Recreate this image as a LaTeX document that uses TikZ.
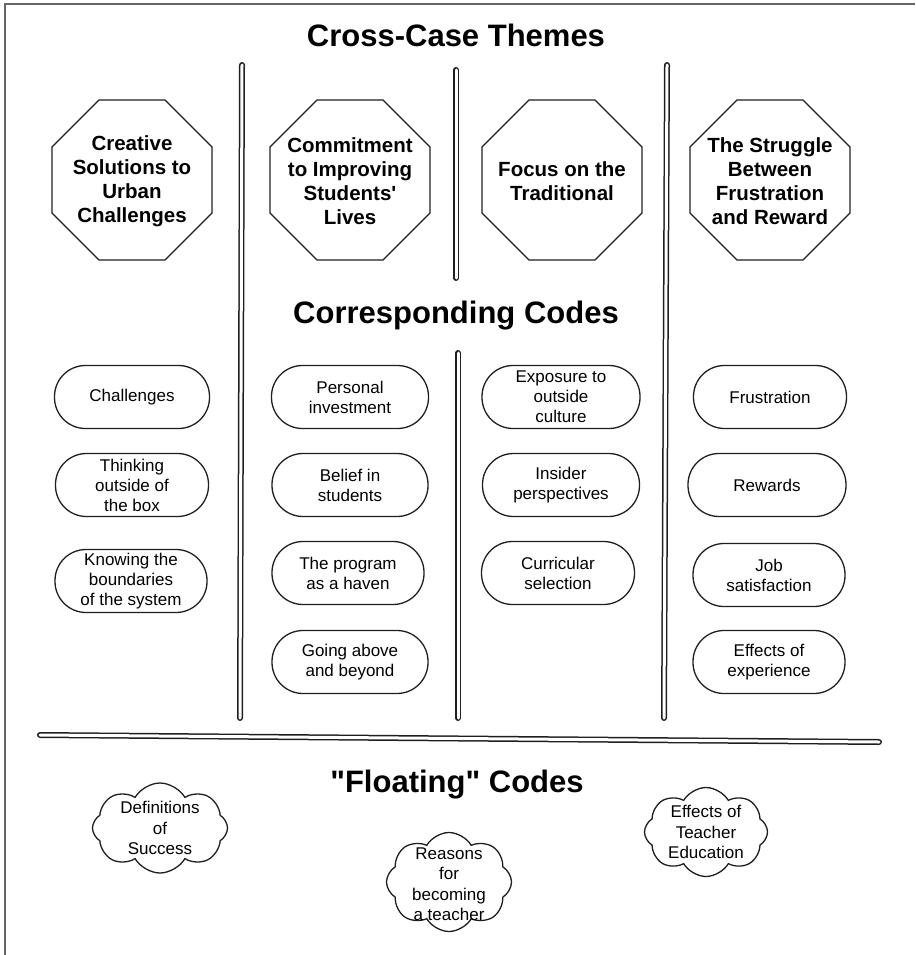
\documentclass[tikz,border=0pt]{standalone}
\usepackage{fontspec}
\setmainfont{Liberation Sans}[Ligatures=TeXOff]
\usetikzlibrary{shapes.geometric,shapes.symbols}
\definecolor{ink}{HTML}{1E1E1E}
\definecolor{frame}{HTML}{666666}
\begin{document}
\begin{tikzpicture}[x=1pt,y=-1pt,
  heading/.style={font=\fontsize{31}{36}\selectfont\bfseries, anchor=base, inner sep=0pt},
  theme/.style={draw=ink, line width=1.3pt, regular polygon, regular polygon sides=8,
    minimum size=173pt, inner sep=0pt},
  themetext/.style={inner sep=0pt, align=center,
    font=\fontsize{20.5}{24}\selectfont\bfseries},
  codebox/.style={draw=ink, line width=1.3pt, rectangle, rounded corners=31pt,
    minimum width=155pt, minimum height=63pt, inner sep=0pt, align=center,
    font=\fontsize{17}{20}\selectfont},
  floatcloud/.style={draw=ink, line width=1.3pt, cloud, cloud puffs=8, cloud puff arc=120,
    cloud ignores aspect, inner sep=0pt},
  cloudtext/.style={align=center, inner sep=0pt, font=\fontsize{17}{20.5}\selectfont},
  divider/.style={draw=ink, double=white, line width=1.5pt, double distance=3pt, line cap=round}
]
\useasboundingbox (0,0) rectangle (915,955);
% frame (top and left edges)
\draw[frame, line width=1.6pt] (5,955) -- (5,4) -- (915,4);

% headings
\node[heading] (h1) at (456,47) {Cross-Case Themes};
\node[heading] (h2) at (456,323) {Corresponding Codes};
\node[heading] (h3) at (457,792) {"Floating" Codes};

% dividers
\coordinate (v1a) at (242,65);  \coordinate (v1b) at (240,718);
\coordinate (v2a) at (456,70);  \coordinate (v2b) at (456,278);
\coordinate (v3a) at (667,65);  \coordinate (v3b) at (664,718);
\coordinate (v4a) at (458,353); \coordinate (v4b) at (458,718);
\coordinate (ha) at (40,735);   \coordinate (hb) at (879,742);
\draw[divider] (v1a) -- (v1b);
\draw[divider] (v2a) -- (v2b);
\draw[divider] (v3a) -- (v3b);
\draw[divider] (v4a) -- (v4b);
\draw[divider] (ha) -- (hb);

% themes
\node[theme] (o1) at (132,180) {};
\node[themetext] (o1t) at (132,181) {Creative\\Solutions to\\Urban\\Challenges};
\node[theme] (o2) at (350,180) {};
\node[themetext] (o2t) at (350,181) {Commitment\\to Improving\\Students'\\Lives};
\node[theme] (o3) at (562,180) {};
\node[themetext] (o3t) at (562,181) {Focus on the\\Traditional};
\node[theme] (o4) at (770,180) {};
\node[themetext] (o4t) at (770,181) {The Struggle\\Between\\Frustration\\and Reward};

% codes column 1
\node[codebox] (c11) at (132,397) {Challenges};
\node[codebox, minimum width=153pt] (c12) at (132,485) {Thinking\\outside of\\the box};
\node[codebox, minimum width=152pt] (c13) at (131,581) {Knowing the\\boundaries\\of the system};
% column 2
\node[codebox, minimum width=157pt] (c21) at (350,397) {Personal\\investment};
\node[codebox, minimum width=156pt] (c22) at (350,485) {Belief in\\students};
\node[codebox, minimum width=152pt] (c23) at (348,573) {The program\\as a haven};
\node[codebox, minimum width=156pt] (c24) at (350,662) {Going above\\and beyond};
% column 3
\node[codebox, minimum width=158pt] (c31) at (561,397) {Exposure to\\outside\\culture};
\node[codebox, minimum width=157pt] (c32) at (561,485) {Insider\\perspectives};
\node[codebox, minimum width=153pt] (c33) at (558,573) {Curricular\\selection};
% column 4
\node[codebox, minimum width=153pt] (c41) at (770,397) {Frustration};
\node[codebox, minimum width=158pt] (c42) at (767,485) {Rewards};
\node[codebox, minimum width=152pt] (c43) at (769,575) {Job\\satisfaction};
\node[codebox, minimum width=152pt] (c44) at (769,662) {Effects of\\experience};

% floating codes
\node[floatcloud, minimum width=135pt, minimum height=90pt] (f1) at (160,828) {};
\node[cloudtext] (f1t) at (f1) {Definitions\\of\\Success};
\node[floatcloud, minimum width=125pt, minimum height=99pt] (f2) at (449,882) {};
\node[cloudtext] (f2t) at (449,884) {Reasons\\for\\becoming\\a teacher};
\node[floatcloud, minimum width=123pt, minimum height=89pt] (f3) at (706,832) {};
\node[cloudtext] (f3t) at (f3) {Effects of\\Teacher\\Education};
\end{tikzpicture}
\end{document}
